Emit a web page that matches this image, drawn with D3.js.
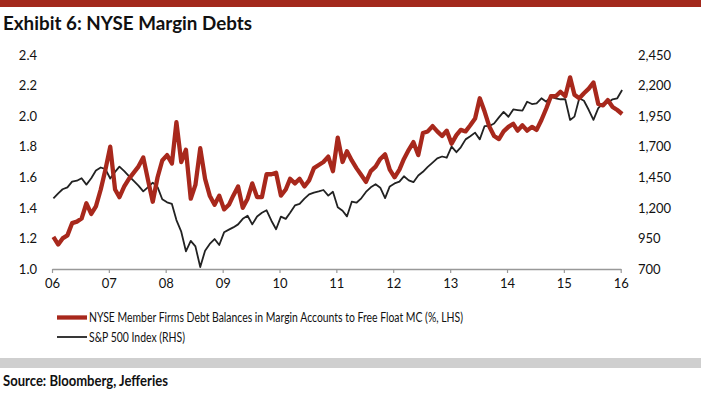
<!DOCTYPE html>
<html><head><meta charset="utf-8">
<script src="https://cdn.jsdelivr.net/npm/d3@7"></script>
<style>
html,body{margin:0;padding:0;background:#fff;}
svg{display:block;}
text{font-family:Lato,"Open Sans",sans-serif;fill:#111;}
</style></head>
<body><svg id="c" width="701" height="394"></svg>
<script>
// ---- data ----
const startMonth = "2006-01";
const marginDebt = [1.21,1.16,1.20,1.22,1.30,1.31,1.33,1.43,1.36,1.41,
 1.52,1.65,1.80,1.52,1.47,1.54,1.59,1.63,1.67,1.73,
 1.58,1.44,1.60,1.71,1.745,1.69,1.96,1.70,1.78,1.46,
 1.55,1.79,1.59,1.48,1.42,1.48,1.39,1.42,1.48,1.54,
 1.40,1.46,1.56,1.47,1.47,1.62,1.62,1.63,1.48,1.52,
 1.59,1.56,1.59,1.54,1.58,1.66,1.68,1.70,1.735,1.64,
 1.86,1.70,1.77,1.71,1.66,1.615,1.57,1.64,1.67,1.72,
 1.75,1.65,1.60,1.65,1.72,1.78,1.83,1.745,1.89,1.90,
 1.935,1.90,1.87,1.905,1.82,1.876,1.91,1.90,1.94,1.985,
 2.117,2.03,1.93,1.87,1.85,1.90,1.93,1.95,1.905,1.94,
 1.905,1.93,1.91,1.975,2.05,2.13,2.13,2.16,2.13,2.254,
 2.14,2.117,2.15,2.18,2.22,2.08,2.07,2.105,2.06,2.04,
 2.014];
const sp500 = [1278,1319,1352,1368,1414,1422,1442,1390,1442,1505,
 1530,1517,1440,1494,1537,1500,1460,1420,1382,1335,
 1370,1406,1370,1270,1245,1232,1100,1005,845,930,
 885,716,850,905,945,896,1000,1022,1040,1065,
 1110,1135,1065,1130,1160,1180,1095,1025,1128,1110,
 1160,1220,1232,1275,1310,1325,1334,1346,1300,1332,
 1205,1177,1130,1250,1242,1278,1330,1368,1393,1365,
 1280,1375,1400,1414,1458,1425,1410,1465,1495,1535,
 1570,1605,1620,1610,1700,1655,1695,1760,1785,1815,
 1760,1869,1870,1890,1940,1985,1945,2005,2000,1995,
 2068,2049,2055,2096,2068,2109,2096,2088,2088,1919,
 1946,2096,2076,2000,1919,2015,2055,2060,2088,2096,
 2164];
const leftTicks = [1.0,1.2,1.4,1.6,1.8,2.0,2.2,2.4];
const rightTicks = [700,950,1200,1450,1700,1950,2200,2450];
const yearTicks = [2006,2007,2008,2009,2010,2011,2012,2013,2014,2015,2016];
const title = "Exhibit 6: NYSE Margin Debts";
const source = "Source: Bloomberg, Jefferies";
const seriesNames = ["NYSE Member Firms Debt Balances in Margin Accounts to Free Float MC (%, LHS)","S&P 500 Index (RHS)"];

// ---- layout ----
const RED = "#a8281c", BLACK = "#222";
const svg = d3.select("#c");
const parse = d3.timeParse("%Y-%m");
const t0 = parse(startMonth);
const dates = marginDebt.map((_, i) => d3.timeDay.offset(d3.timeMonth.offset(t0, i), 9));

const x = d3.scaleTime().domain([new Date(2006,0,1), new Date(2016,0,1)]).range([52, 620.7]);
const yL = d3.scaleLinear().domain([1.0, 2.4]).range([269, 55]);
const yR = d3.scaleLinear().domain([700, 2450]).range([269, 55]);

// top bar
svg.append("rect").attr("x",0).attr("y",0).attr("width",701).attr("height",7).attr("fill","#a3291c");
svg.append("text").attr("x",3).attr("y",30).attr("font-size",18.5).attr("font-weight","bold")
  .attr("textLength",249).attr("lengthAdjust","spacingAndGlyphs").text(title);

// left axis labels
const gL = svg.append("g").attr("transform","translate(37,0)")
  .call(d3.axisLeft(yL).tickValues(leftTicks).tickFormat(d3.format(".1f")).tickSize(0).tickPadding(0));
gL.select(".domain").remove();
gL.selectAll("text").attr("font-size",13).attr("font-family","Lato,sans-serif").attr("fill","#111");

const gR = svg.append("g").attr("transform","translate(638,0)")
  .call(d3.axisRight(yR).tickValues(rightTicks).tickFormat(d3.format(",")).tickSize(0).tickPadding(0));
gR.select(".domain").remove();
gR.selectAll("text").attr("font-size",13).attr("font-family","Lato,sans-serif").attr("fill","#111");

// x axis
const gX = svg.append("g").attr("transform","translate(0,269)")
  .call(d3.axisBottom(x).tickValues(yearTicks.map(y => new Date(y,0,1))).tickFormat(d3.timeFormat("%y")).tickSize(4).tickPadding(6).tickSizeOuter(0));
gX.select(".domain").attr("stroke","#999").attr("stroke-width",1.5);
gX.selectAll(".tick line").attr("stroke","#999").attr("stroke-width",1.2);
gX.selectAll("text").attr("font-size",13).attr("font-family","Lato,sans-serif").attr("fill","#111");

// lines
const lineL = d3.line().x((d,i)=>x(dates[i])).y(d=>yL(d));
const lineR = d3.line().x((d,i)=>x(dates[i])).y(d=>yR(d));
svg.append("path").datum(sp500).attr("d",lineR).attr("fill","none").attr("stroke",BLACK).attr("stroke-width",1.8).attr("stroke-linejoin","round");
svg.append("path").datum(marginDebt).attr("d",lineL).attr("fill","none").attr("stroke",RED).attr("stroke-width",4.3).attr("stroke-linejoin","round");

// legend
const leg = [{c:RED,w:4.3,y:317.5,len:374},{c:BLACK,w:1.8,y:337,len:96}];
leg.forEach((l,i)=>{
  svg.append("line").attr("x1",57).attr("x2",87).attr("y1",l.y).attr("y2",l.y).attr("stroke",l.c).attr("stroke-width",l.w);
  svg.append("text").attr("x",89).attr("y",l.y).attr("dy","0.36em").attr("font-size",13.5)
    .attr("textLength",l.len).attr("lengthAdjust","spacingAndGlyphs").text(seriesNames[i]);
});

// footer
svg.append("rect").attr("x",0).attr("y",358).attr("width",701).attr("height",10).attr("fill","#cfcfcf");
svg.append("text").attr("x",3).attr("y",386).attr("font-size",16).attr("font-weight","bold")
  .attr("textLength",165).attr("lengthAdjust","spacingAndGlyphs").text(source);
</script></body></html>
